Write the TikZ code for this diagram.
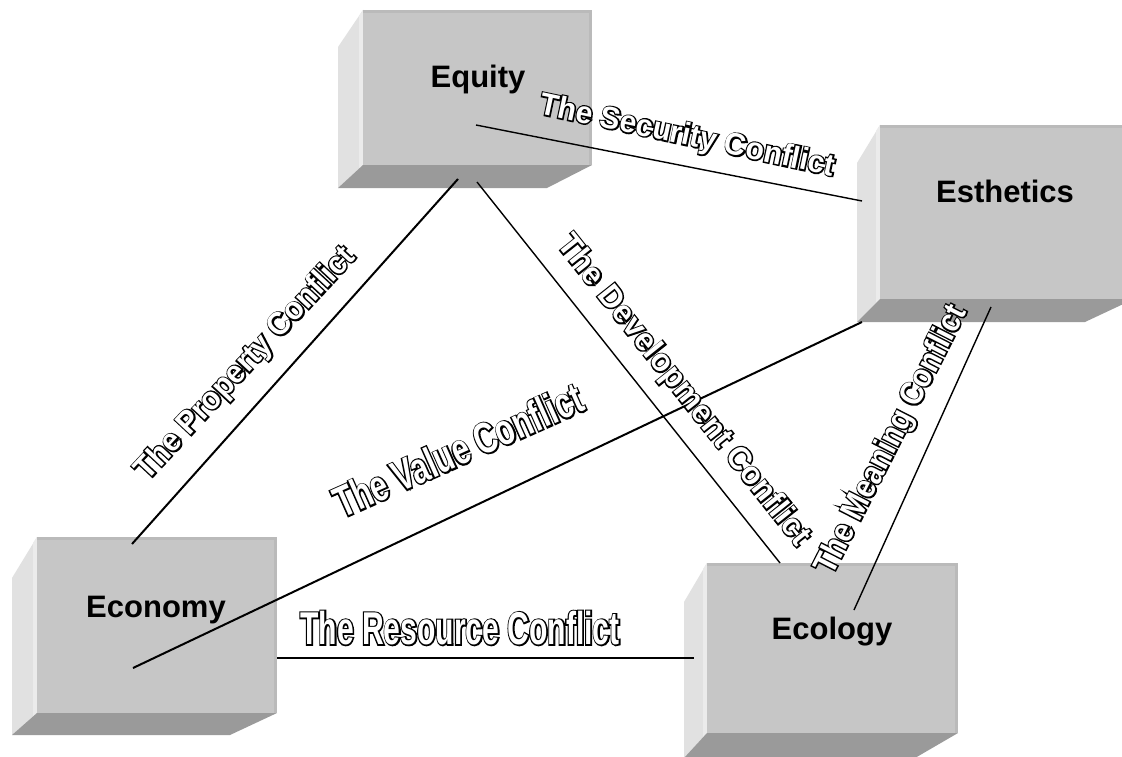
\documentclass[tikz,border=0pt]{standalone}
\usepackage{fontspec}
\setmainfont{Liberation Sans}

\definecolor{facefront}{HTML}{C6C6C6}
\definecolor{faceside}{HTML}{E1E1E1}
\definecolor{facesidehi}{HTML}{EBEBEB}
\definecolor{facebase}{HTML}{9A9A9A}
\definecolor{faceedge}{HTML}{BABABA}

% slab with perspective depth:
% #1,#2,#3,#4 = front face x1,y1,x2,y2 ; #5 = back-left x ; #6 = top of side face ;
% #7 = back bottom y ; #8 = back-right x of the base face
\newcommand\slabbox[8]{%
  \fill[faceside] (#5,#6) -- (#1,#2) -- (#1,#4) -- (#5,#7) -- cycle;
  \fill[facesidehi] ({#1-4},{#2+6}) -- (#1,#2) -- (#1,#4) -- ({#1-4},{#4+4}) -- cycle;
  \fill[facebase] (#5,#7) -- (#1,#4) -- (#3,#4) -- (#8,#7) -- cycle;
  \fill[facefront] (#1,#2) rectangle (#3,#4);
  \fill[faceedge] (#1,#2) rectangle (#3,{#2+3});
  \fill[faceedge] ({#3-3},#2) rectangle (#3,#4);
}

% outlined, white-filled label text: #1 size, #2 horizontal stretch, #3 text
% a thick black stroked layer under a white filled layer
\newcommand\outlined[3]{{\fontsize{#1}{#1}\selectfont\addfontfeatures{FakeStretch=#2}%
  \rlap{\color{black}\special{pdf:literal direct 2 Tr 2.8 w}#3\special{pdf:literal direct 0 Tr}}#3}}

\begin{document}
\begin{tikzpicture}[x=1pt,y=-1pt,
  boxlabel/.style={font=\bfseries\fontsize{31}{31}\selectfont, inner sep=0pt, anchor=base},
  conflict/.style={font=\bfseries, text=white, inner sep=0pt},
  link/.style={draw=black, line width=1.4pt},
  boldlink/.style={draw=black, line width=2pt}]
\useasboundingbox (0,0) rectangle (1122,757);
\clip (0,0) rectangle (1122,757);
\fill[white] (0,0) rectangle (1122,757);

% the four slabs
\slabbox{363}{10}{592}{165}{338}{47}{188}{547}
\slabbox{880}{125}{1134}{299}{857}{163}{322}{1085}
\slabbox{37}{537}{277}{713}{12}{578}{735}{230}
\slabbox{707}{563}{958}{733}{684}{602}{758}{915}

% slab titles
\node[boxlabel] (equity) at (478,88) {Equity};
\node[boxlabel] (esthetics) at (1005,202) {Esthetics};
\node[boxlabel] (economy) at (156,617) {Economy};
\node[boxlabel] (ecology) at (832,639) {Ecology};

% connector end points
\coordinate (eqS) at (476,125);
\coordinate (eqP) at (458,179);
\coordinate (eqD) at (477,182);
\coordinate (esS) at (862,201);
\coordinate (esV) at (862,322);
\coordinate (esM) at (991,307);
\coordinate (ecoP) at (132,544);
\coordinate (ecoV) at (133,668);
\coordinate (ecoR) at (277,658);
\coordinate (eclD) at (780,563);
\coordinate (eclM) at (854,610);
\coordinate (eclR) at (694,658);

% connectors
\draw[link] (eqS) -- (esS);
\draw[boldlink] (eqP) -- (ecoP);
\draw[link] (eqD) -- (eclD);
\draw[boldlink] (esV) -- (ecoV);
\draw[link] (esM) -- (eclM);
\draw[boldlink] (ecoR) -- (eclR);

% conflict labels
\node[conflict, rotate=-12] (security) at (687,137) {\outlined{31}{0.97}{The Security Conflict}};
\node[conflict, rotate=47] (property) at (246,364) {\outlined{32}{0.94}{The Property Conflict}};
\node[conflict, rotate=-51.5] (development) at (683,391) {\outlined{32}{0.98}{The Development Conflict}};
\node[conflict, rotate=24] (value) at (458,450) {\outlined{43.5}{0.71}{The Value Conflict}};
\node[conflict, rotate=63] (meaning) at (892,440) {\outlined{33}{0.89}{The Meaning Conflict}};
\node[conflict] (resource) at (460,628) {\outlined{46}{0.654}{The Resource Conflict}};
\end{tikzpicture}
\end{document}
